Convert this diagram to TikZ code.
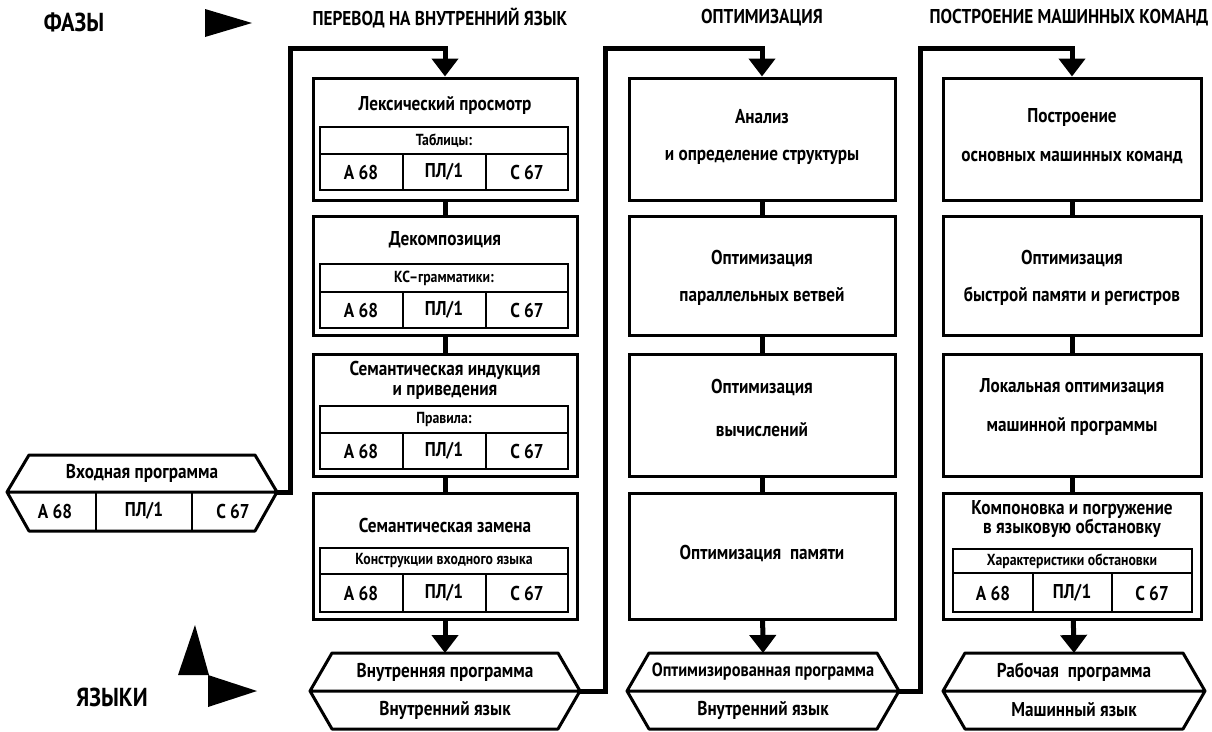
\documentclass[tikz,border=0pt]{standalone}
\usepackage{fontspec}
\setmainfont{PT Sans}[FakeStretch=0.86]
\usetikzlibrary{arrows.meta}

\tikzset{
  box/.style={draw, line width=3pt, inner sep=0pt},
  tab/.style={line width=2pt},
  hexa/.style={line width=3pt, line join=round},
  link/.style={line width=5pt},
  feed/.style={link, -{Triangle[width=26pt,length=18pt]}},
  lbl/.style={font=\fontsize{20}{22}\selectfont\bfseries, inner sep=0pt},
  sml/.style={font=\fontsize{16}{18}\selectfont\bfseries, inner sep=0pt},
  big/.style={font=\fontsize{26}{28}\selectfont\bfseries, inner sep=0pt}
}

\begin{document}
\begin{tikzpicture}[x=1pt,y=-1pt]
\useasboundingbox (0,0) rectangle (1212,731);

\node[big] (fazy) at (74,22) {ФАЗЫ};
\node[big] (yazyki) at (112,697) {ЯЗЫКИ};
\fill (205,9) -- (252,23) -- (205,37) -- cycle;
\fill (195,625) -- (209,675) -- (178,675) -- cycle;
\fill (208,675) -- (257,691) -- (208,707) -- cycle;

\node[lbl] (ph1) at (440,18) {ПЕРЕВОД НА ВНУТРЕННИЙ ЯЗЫК};
\node[lbl] (ph2) at (762,18) {ОПТИМИЗАЦИЯ};
\node[lbl] (ph3) at (1069,18) {ПОСТРОЕНИЕ МАШИННЫХ КОМАНД};

\foreach \n/\y/\h in {lex/139/122, dec/276/119, sem/415/122, zam/556/126}
  \node[box, minimum width=264pt, minimum height=\h pt] (\n) at (445,\y) {};
\foreach \n/\y/\h in {ana/139/122, par/276/119, vyc/415/122, pam/556/126}
  \node[box, minimum width=266pt, minimum height=\h pt] (\n) at (762,\y) {};
\foreach \n/\y/\h in {pos/139/122, bys/276/119, lok/415/122, kom/556/126}
  \node[box, minimum width=258pt, minimum height=\h pt] (\n) at (1072,\y) {};

\foreach \n/\cx/\hw/\t/\m/\b in {vhod/142/135/455/492/531, vnut/445/135/653/691/729, opt/763/136/653/691/729, rab/1074/131/653/691/729}{
  \draw[hexa] (\cx-\hw,\m) -- (\cx-\hw+22,\t) -- (\cx+\hw-22,\t) -- (\cx+\hw,\m)
    -- (\cx+\hw-22,\b) -- (\cx-\hw+22,\b) -- cycle (\cx-\hw,\m) -- (\cx+\hw,\m);
  \coordinate (\n-n) at (\cx,\t);
  \coordinate (\n-e) at (\cx+\hw,\m);
}

\node[lbl] (vhod-p) at (142,473) {Входная программа};
\draw[tab] (96,492) -- (96,531) (192,492) -- (192,531);
\node[lbl] (vhod-a) at (55,511) {А 68};
\node[lbl] (vhod-b) at (144,511) {ПЛ/1};
\node[lbl] (vhod-c) at (233,511) {С 67};

\node[lbl] (lex-t) at (445,105) {Лексический просмотр};
\node[lbl] (dec-t) at (445,240) {Декомпозиция};
\node[lbl, align=center, font=\fontsize{20}{20}\selectfont\bfseries] (sem-t) at (445,380) {Семантическая индукция\\и приведения};
\node[lbl] (zam-t) at (445,525) {Семантическая замена};
\foreach \n/\t/\m/\b/\h in {lex/127/154/190/Таблицы:, dec/264/292/328/КС--грамматики:, sem/406/433/469/Правила:, zam/548/574/612/Конструкции входного языка}{
  \draw[tab] (320,\t) rectangle (568,\b) (320,\m) -- (568,\m) (403,\m) -- (403,\b) (486,\m) -- (486,\b);
  \node[sml] (\n-h) at (444,{(\t+\m)/2}) {\h};
  \node[lbl] (\n-a) at (361,{(\m+\b)/2}) {А 68};
  \node[lbl] (\n-b) at (444,{(\m+\b)/2}) {ПЛ/1};
  \node[lbl] (\n-c) at (527,{(\m+\b)/2}) {С 67};
}

\node[lbl] (ana-t) at (762,117) {Анализ};
\node[lbl] (ana-u) at (762,157) {и определение структуры};
\node[lbl] (par-t) at (762,258) {Оптимизация};
\node[lbl] (par-u) at (762,296) {параллельных ветвей};
\node[lbl] (vyc-t) at (762,387) {Оптимизация};
\node[lbl] (vyc-u) at (762,430) {вычислений};
\node[lbl] (pam-t) at (762,553) {Оптимизация\ \ памяти};

\node[lbl] (pos-t) at (1072,117) {Построение};
\node[lbl] (pos-u) at (1072,157) {основных машинных команд};
\node[lbl] (bys-t) at (1072,258) {Оптимизация};
\node[lbl] (bys-u) at (1072,296) {быстрой памяти и регистров};
\node[lbl] (lok-t) at (1072,387) {Локальная оптимизация};
\node[lbl] (lok-u) at (1072,426) {машинной программы};
\node[lbl, align=center, font=\fontsize{20}{18}\selectfont\bfseries] (kom-t) at (1072,519) {Компоновка и погружение\\в языковую обстановку};
\draw[tab] (953,549) rectangle (1192,612) (953,573) -- (1192,573) (1033,573) -- (1033,612) (1112,573) -- (1112,612);
\node[sml] (kom-h) at (1072,561) {Характеристики обстановки};
\node[lbl] (kom-a) at (993,593) {А 68};
\node[lbl] (kom-b) at (1072,593) {ПЛ/1};
\node[lbl] (kom-c) at (1152,593) {С 67};

\node[lbl] (vnut-p) at (445,672) {Внутренняя программа};
\node[lbl] (vnut-l) at (445,710) {Внутренний язык};
\node[lbl, font=\fontsize{19}{21}\selectfont\bfseries] (opt-p) at (763,672) {Оптимизированная программа};
\node[lbl] (opt-l) at (763,710) {Внутренний язык};
\node[lbl] (rab-p) at (1074,672) {Рабочая\ \ программа};
\node[lbl] (rab-l) at (1074,710) {Машинный язык};

\draw[link] (lex) -- (dec);
\draw[link] (dec) -- (sem);
\draw[link] (sem) -- (zam);
\draw[link] (ana) -- (par);
\draw[link] (par) -- (vyc);
\draw[link] (vyc) -- (pam);
\draw[link] (pos) -- (bys);
\draw[link] (bys) -- (lok);
\draw[link] (lok) -- (kom);
\draw[feed] (zam) -- (vnut-n);
\draw[feed] (pam) -- (opt-n);
\draw[feed] (kom) -- (rab-n);

\coordinate (k1) at (290,48);
\coordinate (k2) at (605,48);
\coordinate (k3) at (920,48);
\draw[feed] (vhod-e) -| (k1) -| (lex.north);
\draw[feed] (vnut-e) -| (k2) -| (ana.north);
\draw[feed] (opt-e) -| (k3) -| (pos.north);
\end{tikzpicture}
\end{document}
